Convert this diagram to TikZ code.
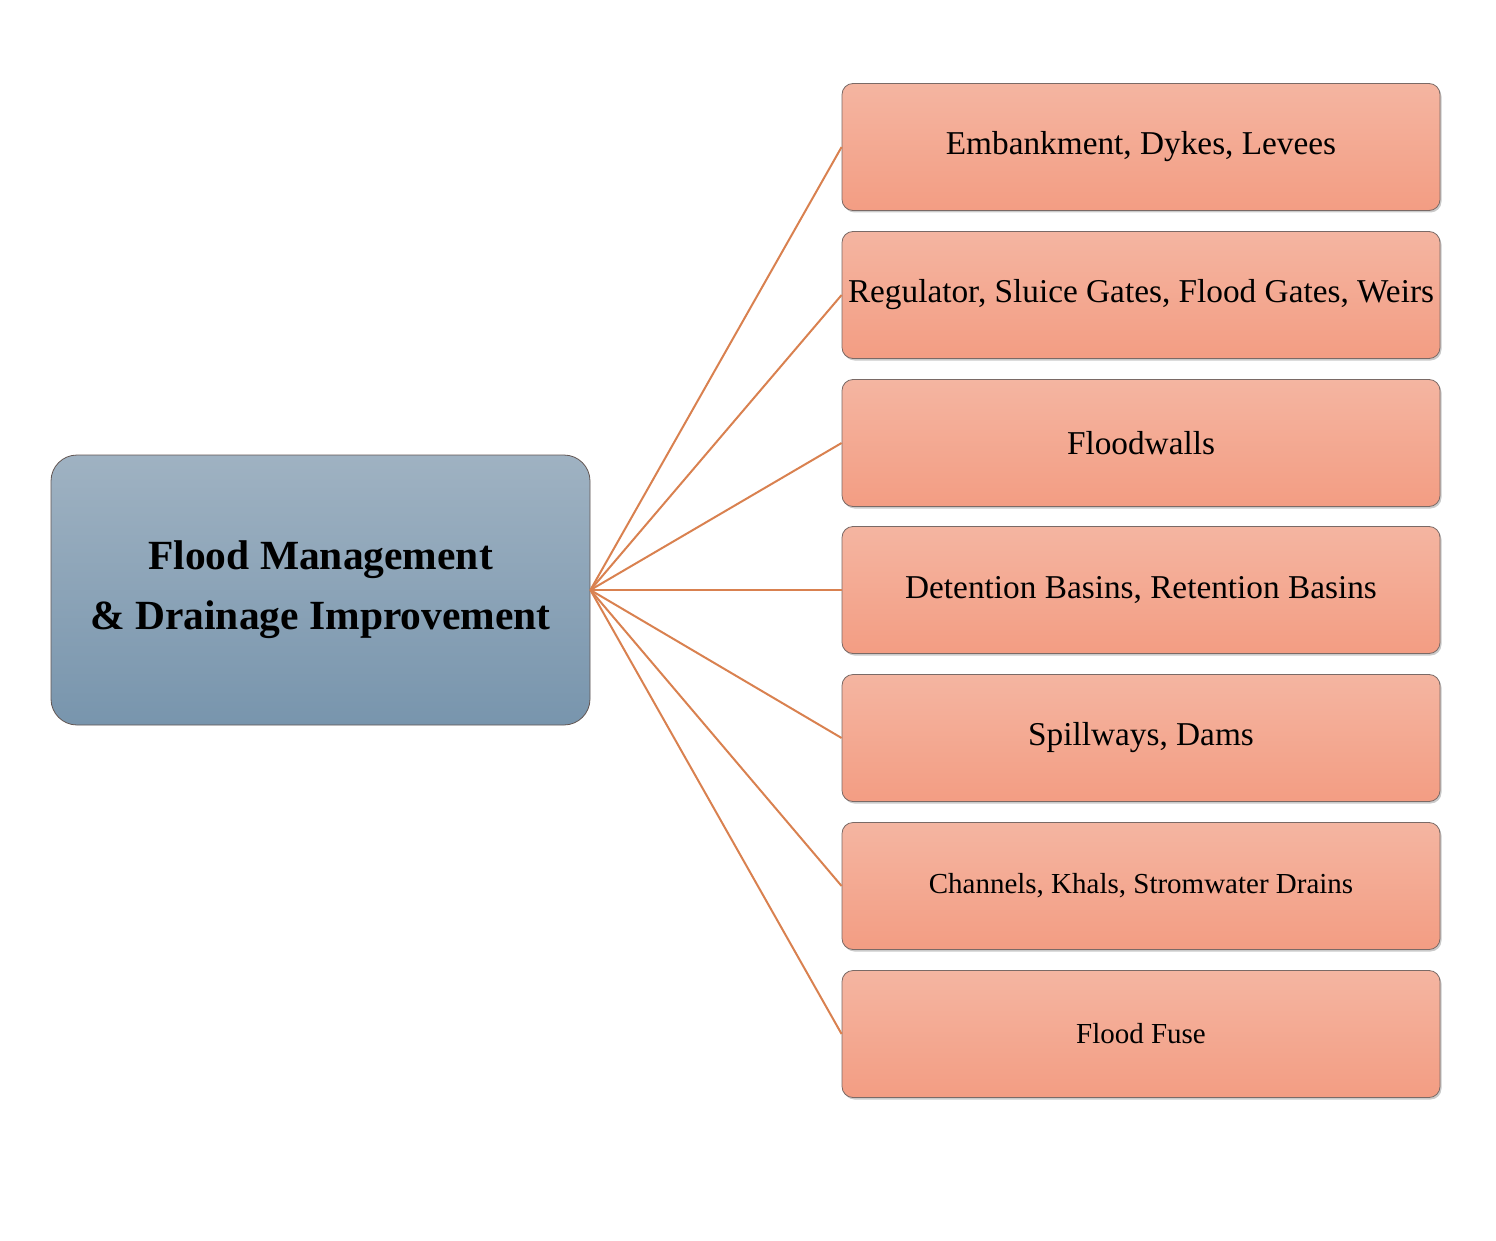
\documentclass[tikz,border=0pt]{standalone}
\usepackage{fontspec}
\setmainfont{Liberation Serif}
\usetikzlibrary{shadows}
\definecolor{btop}{HTML}{9FB2C2}
\definecolor{bbot}{HTML}{7895AD}
\definecolor{otop}{HTML}{F4B5A1}
\definecolor{obot}{HTML}{F39D83}
\definecolor{lnk}{HTML}{D98150}
\definecolor{edge}{HTML}{7A6A66}
\tikzset{
  mainbox/.style={draw=edge!80!black, line width=0.8pt, rounded corners=26pt,
    top color=btop, bottom color=bbot, minimum width=539pt, minimum height=270pt,
    inner sep=0pt, align=center, font=\fontsize{41.5}{60}\selectfont\bfseries},
  itembox/.style={draw=edge, line width=0.8pt, rounded corners=11pt,
    top color=otop, bottom color=obot, minimum width=598pt, minimum height=127pt,
    inner sep=0pt, align=center, font=\fontsize{33.3}{38}\selectfont,
    drop shadow={shadow xshift=1.5pt, shadow yshift=-2pt, fill=black!35, opacity=0.6}},
  smalltext/.style={font=\fontsize{29}{34}\selectfont},
  link/.style={draw=lnk, line width=2pt}
}
\begin{document}
\begin{tikzpicture}[x=1pt,y=-1pt]
\useasboundingbox (0,0) rectangle (1496,1241);
\node[mainbox] (root) at (320.5,590) {Flood Management\\\& Drainage Improvement};
\node[itembox] (a) at (1141,147) {Embankment, Dykes, Levees};
\node[itembox] (b) at (1141,295) {Regulator, Sluice Gates, Flood Gates, Weirs};
\node[itembox] (c) at (1141,443) {Floodwalls};
\node[itembox] (d) at (1141,590) {Detention Basins, Retention Basins};
\node[itembox] (e) at (1141,738) {Spillways, Dams};
\node[itembox, smalltext] (f) at (1141,886) {Channels, Khals, Stromwater Drains};
\node[itembox, smalltext] (g) at (1141,1034) {Flood Fuse};
\foreach \n in {a,b,c,d,e,f,g}
  \draw[link] (root.east) -- (\n.west);
\end{tikzpicture}
\end{document}
